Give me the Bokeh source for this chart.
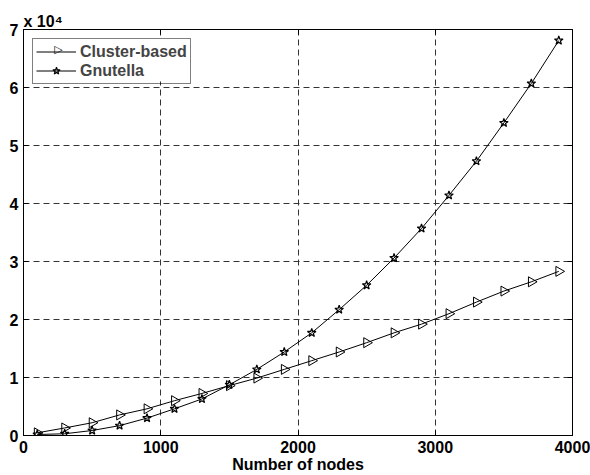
import math
from bokeh.plotting import figure
from bokeh.models import (Range1d, LinearAxis, FixedTicker, Label, CustomJSTickFormatter,
                          Legend, LegendItem, Title, BoxAnnotation)
from bokeh.embed import file_html
from bokeh.resources import INLINE

nodes = [100, 300, 500, 700, 900, 1100, 1300, 1500, 1700, 1900,
         2100, 2300, 2500, 2700, 2900, 3100, 3300, 3500, 3700, 3900]
cluster_based = [460, 1300, 2200, 3550, 4600, 6000, 7250, 8600, 9900, 11400,
                 12900, 14400, 16000, 17700, 19200, 21000, 23000, 24900, 26500, 28300]
gnutella = [170, 300, 860, 1700, 3000, 4600, 6300, 8750, 11400, 14400,
            17700, 21700, 25900, 30600, 35700, 41400, 47300, 53900, 60700, 68100]
x_ticks = [0, 1000, 2000, 3000, 4000]
y_ticks = [0, 10000, 20000, 30000, 40000, 50000, 60000, 70000]
y_tick_labels = ["0", "1", "2", "3", "4", "5", "6", "7"]

FONT = "Liberation Sans"
FS = "16px"

p = figure(width=590, height=475, output_backend="svg", toolbar_location=None,
           x_range=Range1d(0, 4000), y_range=Range1d(0, 70000),
           min_border_left=23, min_border_right=18, min_border_top=29, min_border_bottom=40)
p.background_fill_color = "white"
p.border_fill_color = "white"
p.outline_line_color = "black"
p.outline_line_width = 1

p.title = Title(text="x 10\u2074", align="left", offset=0, standoff=0,
                text_font=FONT, text_font_style="bold", text_font_size="16px",
                text_color="black")

for ax in (p.xaxis[0], p.yaxis[0]):
    ax.major_label_text_font = FONT
    ax.major_label_text_font_style = "bold"
    ax.major_label_text_font_size = FS
    ax.major_label_text_color = "black"
    ax.major_tick_in = 5
    ax.major_tick_out = 0
    ax.minor_tick_line_color = None
    ax.axis_line_color = "black"
    ax.major_tick_line_color = "black"

p.xaxis[0].ticker = FixedTicker(ticks=x_ticks)
p.yaxis[0].ticker = FixedTicker(ticks=y_ticks)
p.yaxis[0].major_label_overrides = {t: l for t, l in zip(y_ticks, y_tick_labels)}
p.xaxis[0].major_label_standoff = 5
p.yaxis[0].major_label_standoff = 5
p.xaxis[0].axis_label = "Number of nodes"
p.xaxis[0].axis_label_text_font = FONT
p.xaxis[0].axis_label_text_font_style = "bold"
p.xaxis[0].axis_label_text_font_size = FS
p.xaxis[0].axis_label_text_color = "black"
p.xaxis[0].axis_label_standoff = 0

blank = CustomJSTickFormatter(code="return '';")
top = LinearAxis(ticker=FixedTicker(ticks=x_ticks), formatter=blank,
                 major_tick_in=5, major_tick_out=0, minor_tick_line_color=None,
                 major_label_standoff=0, major_label_text_font_size="1px")
right = LinearAxis(ticker=FixedTicker(ticks=y_ticks), formatter=blank,
                   major_tick_in=5, major_tick_out=0, minor_tick_line_color=None,
                   major_label_standoff=0, major_label_text_font_size="1px")
p.add_layout(top, "above")
p.add_layout(right, "right")

for g in (p.xgrid[0], p.ygrid[0]):
    g.grid_line_color = "#333333"
    g.grid_line_dash = "6 4"
    g.grid_line_width = 1
p.xgrid[0].ticker = FixedTicker(ticks=x_ticks)
p.ygrid[0].ticker = FixedTicker(ticks=y_ticks)

l1 = p.line(nodes, cluster_based, line_color="black", line_width=1)
s1 = p.scatter(nodes, cluster_based, marker="triangle", angle=-math.pi / 2, size=10,
               line_color="black", fill_color=None, line_width=1)
l2 = p.line(nodes, gnutella, line_color="black", line_width=1)
s2 = p.scatter(nodes, gnutella, marker="star", size=9,
               line_color="black", fill_color=None, line_width=1.2)

# white backing for the legend box (frame spans px 23..572 x 29..435)
def px_x(px):
    return (px - 23) / (572 - 23) * 4000
def px_y(py):
    return (435 - py) / (435 - 29) * 70000

p.add_layout(BoxAnnotation(left=px_x(33), right=px_x(189), top=px_y(38), bottom=px_y(81),
                           fill_color="white", fill_alpha=1, line_color=None))

lg = Legend(items=[LegendItem(label="Cluster-based", renderers=[l1]),
                   LegendItem(label="Gnutella", renderers=[l2, s2])])
lg.location = "top_left"
lg.margin = 9
lg.padding = 3
lg.spacing = 0
lg.glyph_width = 40
lg.glyph_height = 19
lg.label_height = 19
lg.label_standoff = 4
lg.label_text_font = FONT
lg.label_text_font_style = "bold"
lg.label_text_font_size = FS
lg.border_line_color = "black"
lg.border_line_width = 1
lg.background_fill_color = None
lg.background_fill_alpha = 0
p.add_layout(lg, "center")

# right-pointing triangle symbol for the Cluster-based legend entry
p.add_layout(Label(x=0, y=70000, text="\u25b7", x_offset=35, y_offset=-20,
                   text_align="center", text_baseline="middle",
                   text_font="DejaVu Sans", text_font_size="11px", text_color="black"))

open("out.html", "w").write(file_html(p, INLINE))
